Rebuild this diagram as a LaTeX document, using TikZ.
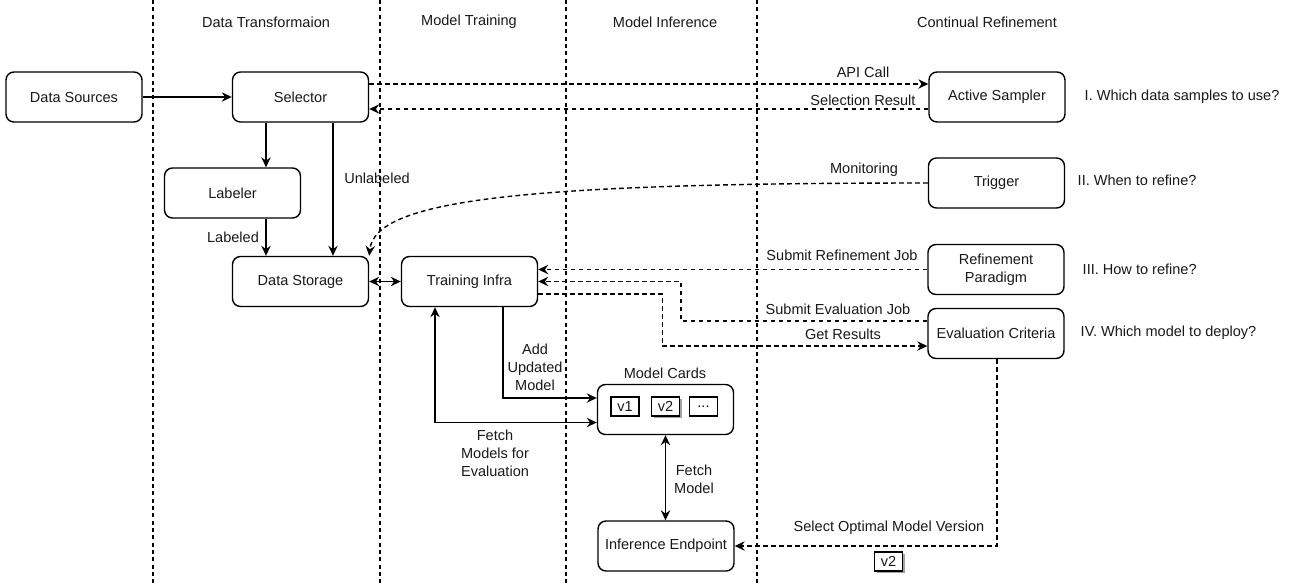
\documentclass[tikz,border=0pt]{standalone}
\usepackage{fontspec}
\setmainfont{Liberation Sans}
\usetikzlibrary{arrows.meta,calc,shadows}

\begin{document}
\begin{tikzpicture}[x=0.75pt,y=-0.75pt,
  every node/.style={font=\fontsize{10.9pt}{13.5pt}\selectfont, text=black!90},
  >={Stealth[length=7.5pt,width=7pt,inset=2.5pt]},
  box/.style={draw, rounded corners=6pt, line width=1.05pt, fill=white,
    minimum width=102pt, minimum height=37.5pt, align=center, inner sep=2pt},
  ver/.style={draw, line width=1.05pt, fill=white, minimum width=21pt,
    minimum height=14.25pt, inner sep=0pt},
  shade/.style={drop shadow={shadow xshift=1.6pt, shadow yshift=-1.6pt, fill=black!45, opacity=0.8}},
  lane/.style={line width=0.9pt, dash pattern=on 3pt off 2.5pt},
  arr/.style={line width=1.05pt, ->},
  darr/.style={line width=1.05pt, dash pattern=on 3.5pt off 2.5pt, ->},
  both/.style={line width=1.05pt, <->},
  lbl/.style={inner sep=1pt, align=center}
]
\useasboundingbox (0,0) rectangle (1290,583);
\fill[white] (0,0) rectangle (1290,583);

% swim-lane separators
\foreach \lx in {153,380,566,757}
  \draw[lane] (\lx,0) -- (\lx,583);

% lane titles
\node (t1) at (266,22) {Data Transformaion};
\node (t2) at (469,22) {Model Training};
\node (t3) at (665,22) {Model Inference};
\node (t4) at (987,22) {Continual Refinement};

% components
\node[box] (ds)    at (74,97)      {Data Sources};
\node[box] (sel)   at (300.5,97)   {Selector};
\node[box] (lab)   at (232.5,193)  {Labeler};
\node[box] (stor)  at (300.5,281.5){Data Storage};
\node[box] (train) at (469.5,281.5){Training Infra};
\node[box] (act)   at (997,97)     {Active Sampler};
\node[box] (trig)  at (996.5,183)  {Trigger};
\node[box] (ref)   at (996,269.5)  {Refinement\\Paradigm};
\node[box] (eval)  at (996,333.5)  {Evaluation Criteria};
\node[box] (cards) at (665.5,409.5){};
\node[box] (inf)   at (666,546)    {Inference Endpoint};

\node (cardst) at (665,373) {Model Cards};
\node[ver] (v1)  at (625,406.5)   {v1};
\node[ver,shade] (v2)  at (665.5,406.5) {v2};
\node[ver] (vd)  at (703.5,406.5) {...};

% questions
\node[anchor=west] (q1) at (1080,97)  {I. Which data samples to use?};
\node[anchor=west] (q2) at (1073,180) {II. When to refine?};
\node[anchor=west] (q3) at (1078,269) {III. How to refine?};
\node[anchor=west] (q4) at (1076,333) {IV. Which model to deploy?};

% data flow
\draw[arr] (ds) -- (sel);
\draw[arr] (266,0 |- sel.south) -- (266,0 |- lab.north);
\draw[arr] (333,0 |- sel.south) -- (333,0 |- stor.north);
\node[lbl] (ul) at (377,178) {Unlabeled};
\draw[arr] (266,0 |- lab.south) -- (266,0 |- stor.north);
\node[lbl] (lb) at (233,237) {Labeled};
\draw[both] (stor) -- (train);

% active sampling
\draw[darr] ($(sel.east)+(0,-13)$) -- ($(act.west)+(0,-13)$);
\node[lbl] (api) at (863,72) {API Call};
\draw[darr] ($(act.west)+(0,12)$) -- ($(sel.east)+(0,12)$);
\node[lbl] (sr) at (863,100) {Selection Result};

% monitoring
\draw[darr] (trig.west) .. controls (520,183) and (375,200) .. (stor.north east);
\node[lbl] (mon) at (864,170) {Monitoring};

% refinement and evaluation jobs
\draw[darr] (ref.west) -- (ref.west -| train.east);
\node[lbl] (srj) at (842,255) {Submit Refinement Job};
\draw[darr] ($(eval.west)+(0,-12.5)$) -| (train.east -| 681,0) -- (train.east);
\node[lbl] (sej) at (838,309) {Submit Evaluation Job};
\draw[darr] ($(train.east)+(0,12.5)$) -| ($(eval.west)+(-265,12.5)$) -- ($(eval.west)+(0,12.5)$);
\node[lbl] (gr) at (843,334) {Get Results};

% model cards
\draw[arr] (503,0 |- train.south) |- ($(cards.west)+(0,-11.5)$);
\node[lbl] (aum) at (535,367) {Add\\Updated\\Model};
\draw[both] ($(cards.west)+(0,13)$) -| (435,0 |- train.south);
\node[lbl] (fme) at (495,453) {Fetch\\Models for\\Evaluation};
\draw[both] (cards.south) -- (cards.south |- inf.north);
\node[lbl] (fm) at (694,479) {Fetch\\Model};

% deployment
\draw[darr] (997,0 |- eval.south) |- (inf.east);
\node[lbl] (som) at (889,528) {Select Optimal Model Version};
\node[ver,shade] (v2b) at (888.5,561.5) {v2};
\end{tikzpicture}
\end{document}
